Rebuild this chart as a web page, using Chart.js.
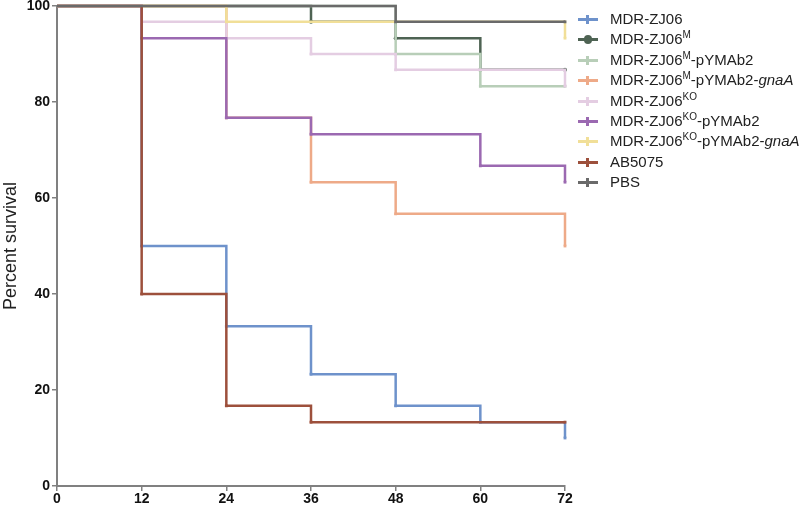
<!DOCTYPE html>
<html>
<head>
<meta charset="utf-8">
<script src="https://cdn.jsdelivr.net/npm/chart.js@4"></script>
<style>
  body { margin: 0; background: #fff; }
  #wrap { position: relative; width: 800px; height: 507px; }
  #legend { position: absolute; left: 578px; top: 9px; font-family: "Liberation Sans", Arial, sans-serif; font-size: 15px; color: #222; }
  .item { height: 20.4px; line-height: 20px; white-space: nowrap; position: relative; padding-left: 32px; }
  .item sup { font-size: 10px; vertical-align: 6px; line-height: 0; }
  .sw { position: absolute; left: 0; top: 9px; width: 20px; height: 3px; }
  .tk { position: absolute; left: 8px; top: -3px; width: 3px; height: 9px; }
  .dot { position: absolute; left: 6px; top: -3px; width: 8px; height: 9px; border-radius: 4px; }
</style>
</head>
<body>
<div id="wrap">
  <canvas id="myChart" width="800" height="507"></canvas>
  <div id="legend"></div>
</div>
<script>
document.addEventListener("DOMContentLoaded", function () {

        // hours and percent survival, per group
        const zj06T = [0, 12, 24, 36, 48, 60, 72];
        const zj06S = [100, 50, 33.3, 23.3, 16.7, 13.3, 10];
        const zj06mT = [0, 36, 48, 60, 72];
        const zj06mS = [100, 96.7, 93.3, 86.7, 86.7];
        const zj06mPyT = [0, 48, 60, 72];
        const zj06mPyS = [100, 90, 83.3, 83.3];
        const zj06mGnaT = [0, 24, 36, 48, 72];
        const zj06mGnaS = [100, 76.7, 63.3, 56.7, 50];
        const koT = [0, 12, 24, 36, 48, 72];
        const koS = [100, 96.7, 93.3, 90, 86.7, 83.3];
        const koPyT = [0, 12, 24, 36, 60, 72];
        const koPyS = [100, 93.3, 76.7, 73.3, 66.7, 63.3];
        const koGnaT = [0, 24, 72];
        const koGnaS = [100, 96.7, 93.3];
        const ab5075T = [0, 12, 24, 36, 72];
        const ab5075S = [100, 40, 16.7, 13.3, 13.3];
        const pbsT = [0, 48, 72];
        const pbsS = [100, 96.7, 96.7];

        const xTicks = [0, 12, 24, 36, 48, 60, 72];
        const yTicks = [0, 20, 40, 60, 80, 100];

        const groups = [
            {html: 'MDR-ZJ06', t: zj06T, s: zj06S, color: '#6e92cb'},
            {html: 'MDR-ZJ06<sup>M</sup>', t: zj06mT, s: zj06mS, color: '#4e6353', dot: true},
            {html: 'MDR-ZJ06<sup>M</sup>-pYMAb2', t: zj06mPyT, s: zj06mPyS, color: '#b8ceb8'},
            {html: 'MDR-ZJ06<sup>M</sup>-pYMAb2-<i>gnaA</i>', t: zj06mGnaT, s: zj06mGnaS, color: '#eeaa88'},
            {html: 'MDR-ZJ06<sup>KO</sup>', t: koT, s: koS, color: '#e4cde2'},
            {html: 'MDR-ZJ06<sup>KO</sup>-pYMAb2', t: koPyT, s: koPyS, color: '#9b69b1'},
            {html: 'MDR-ZJ06<sup>KO</sup>-pYMAb2-<i>gnaA</i>', t: koGnaT, s: koGnaS, color: '#f1df98'},
            {html: 'AB5075', t: ab5075T, s: ab5075S, color: '#9d503c'},
            {html: 'PBS', t: pbsT, s: pbsS, color: '#6a6a6a'}
        ];

        const datasets = groups.map(function (g, i) {
            return {
                label: g.html.replace(/<[^>]+>/g, ''),
                data: g.t.map(function (t, k) { return {x: t, y: g.s[k]}; }),
                borderColor: g.color,
                backgroundColor: g.color,
                borderWidth: 2.5,
                stepped: 'before',
                order: -i,
                clip: 6,
                pointStyle: g.dot ? 'circle' : 'rect',
                pointRadius: function (ctx) {
                    return ctx.dataIndex > 0 ? 2 : 0;
                },
                pointBorderWidth: 0
            };
        });

        const config = {
            type: 'line',
            data: {datasets: datasets},
            options: {
                responsive: false,
                animation: false,
                layout: {padding: {top: 6, right: 235, left: 0, bottom: 0}},
                plugins: {
                    legend: {display: false},
                    tooltip: {enabled: false}
                },
                scales: {
                    x: {
                        type: 'linear',
                        min: 0,
                        max: 72,
                        afterBuildTicks: function (scale) {
                            scale.ticks = xTicks.map(function (v) { return {value: v}; });
                        },
                        afterFit: function (scale) {
                            scale.height = 21;
                            scale.paddingLeft = 0;
                            scale.paddingRight = 0;
                        },
                        grid: {drawOnChartArea: false, color: '#808080', tickLength: 5, lineWidth: 1.5},
                        border: {color: '#808080', width: 2},
                        ticks: {
                            color: '#111',
                            padding: 0,
                            maxRotation: 0,
                            font: {family: 'Liberation Sans', size: 14, weight: 'bold'}
                        }
                    },
                    y: {
                        min: 0,
                        max: 100,
                        afterBuildTicks: function (scale) {
                            scale.ticks = yTicks.map(function (v) { return {value: v}; });
                        },
                        afterFit: function (scale) {
                            scale.width = 57;
                            scale.paddingTop = 0;
                            scale.paddingBottom = 0;
                        },
                        grid: {drawOnChartArea: false, color: '#808080', tickLength: 5, lineWidth: 1.5},
                        border: {color: '#808080', width: 2},
                        title: {
                            display: true,
                            text: 'Percent survival',
                            color: '#222',
                            padding: 0,
                            font: {family: 'Liberation Sans', size: 18}
                        },
                        ticks: {
                            color: '#111',
                            padding: 2,
                            font: {family: 'Liberation Sans', size: 14, weight: 'bold'}
                        }
                    }
                }
            }
        };

        const myChart = new Chart(
            document.getElementById('myChart'),
            config
        );

        // legend with superscripts and italics
        const legend = document.getElementById('legend');
        groups.forEach(function (g) {
            const row = document.createElement('div');
            row.className = 'item';
            const mark = g.dot ? '<span class="dot" style="background:' + g.color + '"></span>'
                               : '<span class="tk" style="background:' + g.color + '"></span>';
            row.innerHTML = '<span class="sw" style="background:' + g.color + '">' + mark + '</span>' + g.html;
            legend.appendChild(row);
        });
    }
);
</script>
</body>
</html>
